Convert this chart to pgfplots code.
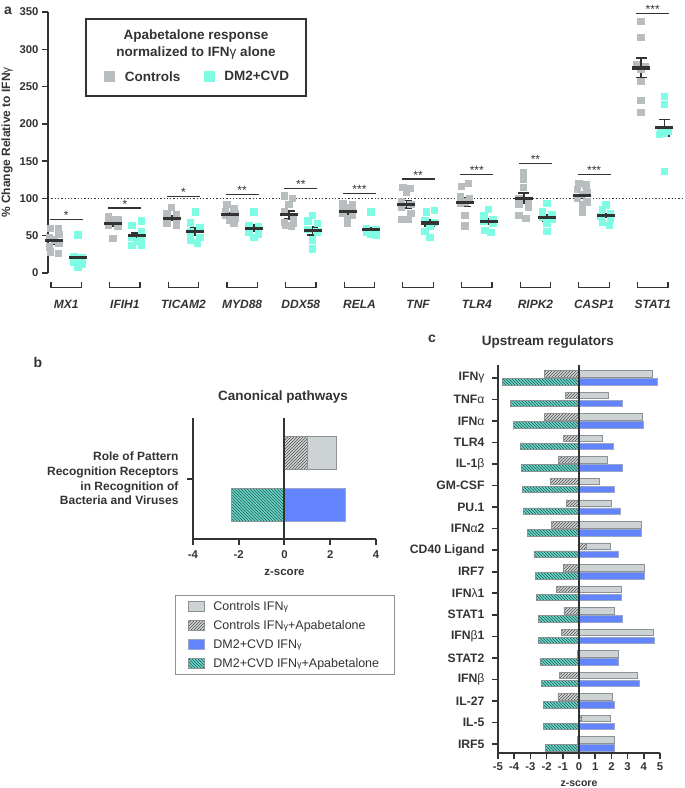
\documentclass[border=0pt]{standalone}
\usepackage{pgfplots}
\usepackage{pgfplotstable}
\pgfplotsset{compat=1.18}
\usepackage{fontspec}
\setmainfont{Liberation Sans}
\usetikzlibrary{patterns}
\definecolor{dark}{HTML}{333333}
\definecolor{ctrlpt}{HTML}{B8BEC0}
\definecolor{dmpt}{HTML}{80FCE4}
\definecolor{bargray}{HTML}{CDD2D4}
\definecolor{barborder}{HTML}{8C9294}
\definecolor{hgray}{HTML}{D2D5D6}
\definecolor{hgrayline}{HTML}{505050}
\definecolor{bblue}{HTML}{6384FF}
\definecolor{bblueborder}{HTML}{9AA6C8}
\definecolor{hcyan}{HTML}{6CD8CA}
\definecolor{hcyanline}{HTML}{1E5A55}
\pgfplotsset{
  bigsq legend/.style={legend image code/.code={\pgfpathrectangle{\pgfpoint{0pt}{-5pt}}{\pgfpoint{18pt}{10pt}}\pgfusepath{use as bounding box}\draw[##1, mark size=5pt] plot coordinates {(5pt,0pt)};}},
  rect legend/.style={legend image code/.code={\pgfpathrectangle{\pgfpoint{0pt}{-5pt}}{\pgfpoint{23pt}{10pt}}\pgfusepath{use as bounding box}\draw[##1] (0pt,-5pt) rectangle (16pt,5pt);}},
}

\pgfplotstableread{
x y
-0.27 60
-0.13 60
-0.12 52
-0.28 47
-0.20 44
-0.12 40
-0.28 35
-0.27 28
-0.13 26
0.72 76
0.88 72
0.80 72
0.72 70
0.88 66
0.72 64
0.88 62
0.80 46
1.80 88
1.72 80
1.88 78
1.72 76
1.88 73
1.72 70
1.88 68
1.72 66
1.88 64
2.74 92
2.86 86
2.72 82
2.88 79
2.72 77
2.88 74
2.78 71
2.86 67
3.72 103
3.86 100
3.80 92
3.72 82
3.88 72
3.72 68
3.88 66
3.74 64
3.84 63
4.72 93
4.88 91
4.80 88
4.72 86
4.88 82
4.72 80
4.88 77
4.80 73
4.80 66
5.74 115
5.86 113
5.80 108
5.72 95
5.88 92
5.72 88
5.88 80
5.72 72
5.84 72
6.86 120
6.74 116
6.72 102
6.88 100
6.80 95
6.72 93
6.80 77
6.80 63
7.80 135
7.80 126
7.80 115
7.72 100
7.88 95
7.72 92
7.88 88
7.72 77
7.84 73
8.74 120
8.86 118
8.72 112
8.88 108
8.80 105
8.72 100
8.88 95
8.80 91
8.80 82
9.80 337
9.80 316
9.72 280
9.88 277
9.80 273
9.80 257
9.80 231
9.80 215
}\ctrltab

\pgfplotstableread{
x y
0.20 51
0.13 22
0.27 20
0.20 18
0.13 15
0.27 12
0.20 8
1.28 70
1.12 64
1.28 55
1.12 48
1.28 46
1.20 42
1.12 37
1.28 37
2.20 82
2.12 67
2.28 61
2.12 55
2.28 48
2.12 44
2.24 40
3.20 82
3.12 64
3.28 62
3.12 60
3.28 58
3.12 54
3.28 52
3.20 48
4.20 77
4.12 70
4.28 66
4.12 58
4.28 55
4.20 44
4.20 32
5.20 82
5.12 60
5.28 58
5.12 55
5.28 54
5.20 52
5.28 50
6.28 84
6.14 82
6.12 70
6.28 68
6.20 62
6.12 56
6.20 48
7.20 85
7.12 77
7.28 72
7.12 70
7.28 66
7.14 57
7.24 54
8.20 93
8.12 82
8.28 78
8.12 75
8.28 72
8.20 70
8.20 66
8.20 56
9.20 91
9.14 85
9.28 80
9.12 76
9.28 72
9.14 68
9.26 64
10.20 237
10.20 226
10.14 192
10.26 190
10.20 188
10.12 186
10.20 136
}\dmtab

\pgfplotstableread{
x y e
-0.2 43.6 4.5
0.2 20.9 4
0.8 66 3
1.2 50 4
1.8 73.5 3
2.2 56 5
2.8 78 3
3.2 60 4
3.8 78 5.5
4.2 56.5 5.5
4.8 82 3
5.2 58 3
5.8 92 5
6.2 67 4
6.8 95 6
7.2 69.5 3.5
7.8 100 7
8.2 74 4.5
8.8 104 4
9.2 77 2.5
9.8 275 13
10.2 195 11
}\meantab

\pgfplotstableread{
y cg ch dg dh
17 4.53 -2.16 4.86 -4.73
16 1.81 -0.84 2.67 -4.24
15 3.93 -2.16 3.99 -4.05
14 1.42 -0.97 2.10 -3.62
13 1.75 -1.28 2.67 -3.56
12 1.28 -1.79 2.18 -3.50
11 1.99 -0.78 2.55 -3.44
10 3.85 -1.71 3.85 -3.19
9 1.95 0.43 2.43 -2.78
8 4.03 -0.97 4.03 -2.70
7 2.61 -1.40 2.61 -2.65
6 2.18 -0.93 2.65 -2.51
5 4.59 -1.09 4.67 -2.49
4 2.43 -0.10 2.43 -2.41
3 3.60 -1.19 3.72 -2.33
2 2.04 -1.30 2.18 -2.22
1 1.95 0.16 2.16 -2.18
0 2.20 -0.10 2.20 -2.06
}\upreg

\begin{document}
\begin{tikzpicture}[x=1pt,y=1pt]
\path[use as bounding box] (0,0) rectangle (685,-788);
% panel letters and titles
\node[font=\bfseries\fontsize{14}{16}\selectfont, text=dark] at (8,-11) {a};
\node[font=\bfseries\fontsize{14}{16}\selectfont, text=dark] at (38,-362) {b};
\node[font=\bfseries\fontsize{14}{16}\selectfont, text=dark] at (432,-339) {c};
\draw[dark, line width=1.3pt] (86,-19) rectangle (306,-96);
\node[align=center, font=\bfseries\fontsize{13.5}{17}\selectfont, text=dark] at (196,-44.5) {Apabetalone response\\normalized to IFN{\mdseries γ} alone};
\node[font=\bfseries\fontsize{13.5}{16}\selectfont, text=dark] at (283,-397) {Canonical pathways};
\node[font=\bfseries\fontsize{13.5}{16}\selectfont, text=dark] at (548,-342) {Upstream regulators};

% ---------------- Panel a ----------------
\begin{axis}[
  at={(48pt,-273pt)}, anchor=south west,
  scale only axis, width=637pt, height=261pt,
  xmin=-0.31, xmax=10.55, ymin=0, ymax=350,
  clip=false,
  axis lines*=left, axis line style={-},
  x axis line style={draw=none},
  y axis line style={line width=1.3pt, dark},
  xtick={0,...,10},
  xticklabels={MX1,IFIH1,TICAM2,MYD88,DDX58,RELA,TNF,TLR4,RIPK2,CASP1,STAT1},
  xtick style={draw=none},
  xticklabel style={font=\bfseries\itshape\fontsize{12}{14}\selectfont, text=dark, yshift=-18pt},
  ytick={0,50,...,350},
  ytick style={line width=1.3pt, dark},
  tick align=outside, major tick length=6pt,
  yticklabel style={font=\bfseries\fontsize{11.3}{13}\selectfont, text=dark},
  /pgf/number format/assume math mode=true,
  ylabel={\% Change Relative to IFN{\mdseries γ}},
  ylabel style={font=\bfseries\fontsize{12}{14}\selectfont, text=dark},
  legend style={at={(0.2355,0.751)}, anchor=center, draw=none, fill=none,
    font=\bfseries\fontsize{13.5}{16}\selectfont, text=dark,
    /tikz/every even column/.append style={column sep=22pt}},
  legend columns=2,
]
\addplot[dark, line width=1pt, dash pattern=on 1.3pt off 2pt, forget plot] coordinates {(-0.31,100) (10.55,100)};
\addplot[color=ctrlpt, only marks, mark=square*, mark size=3.2pt, mark options={draw=ctrlpt, fill=ctrlpt, line width=0pt}, bigsq legend] table {\ctrltab};
\addlegendentry{Controls}
\addplot[color=dmpt, only marks, mark=square*, mark size=3.2pt, mark options={draw=dmpt, fill=dmpt, line width=0pt}, bigsq legend] table {\dmtab};
\addlegendentry{DM2+CVD}
\addplot[only marks, mark=-, mark size=9pt, mark options={line width=3.2pt, dark}, dark, forget plot,
  error bars/.cd, y dir=both, y explicit,
  error bar style={line width=1.6pt, dark},
  error mark options={rotate=90, mark size=5.5pt, line width=1.6pt, dark}]
  table[x=x, y=y, y error=e] {\meantab};
% brackets under categories
\pgfplotsinvokeforeach{0,...,10}{
  \draw[dark, line width=1.2pt] (axis cs:#1-0.26,-12) -- (axis cs:#1-0.26,-19) -- (axis cs:#1+0.26,-19) -- (axis cs:#1+0.26,-12);
}
% significance
\draw[dark, line width=1.3pt] (axis cs:-0.28,72) -- (axis cs:0.28,72);
\node[anchor=base, text=dark, font=\fontsize{12}{14}\selectfont] at (axis cs:0,72) {*};
\draw[dark, line width=1.3pt] (axis cs:0.72,87) -- (axis cs:1.28,87);
\node[anchor=base, text=dark, font=\fontsize{12}{14}\selectfont] at (axis cs:1,87) {*};
\draw[dark, line width=1.3pt] (axis cs:1.72,103) -- (axis cs:2.28,103);
\node[anchor=base, text=dark, font=\fontsize{12}{14}\selectfont] at (axis cs:2,103) {*};
\draw[dark, line width=1.3pt] (axis cs:2.72,105) -- (axis cs:3.28,105);
\node[anchor=base, text=dark, font=\fontsize{12}{14}\selectfont] at (axis cs:3,105) {**};
\draw[dark, line width=1.3pt] (axis cs:3.72,113) -- (axis cs:4.28,113);
\node[anchor=base, text=dark, font=\fontsize{12}{14}\selectfont] at (axis cs:4,113) {**};
\draw[dark, line width=1.3pt] (axis cs:4.72,107) -- (axis cs:5.28,107);
\node[anchor=base, text=dark, font=\fontsize{12}{14}\selectfont] at (axis cs:5,107) {***};
\draw[dark, line width=1.3pt] (axis cs:5.72,126) -- (axis cs:6.28,126);
\node[anchor=base, text=dark, font=\fontsize{12}{14}\selectfont] at (axis cs:6,126) {**};
\draw[dark, line width=1.3pt] (axis cs:6.72,132) -- (axis cs:7.28,132);
\node[anchor=base, text=dark, font=\fontsize{12}{14}\selectfont] at (axis cs:7,132) {***};
\draw[dark, line width=1.3pt] (axis cs:7.72,147) -- (axis cs:8.28,147);
\node[anchor=base, text=dark, font=\fontsize{12}{14}\selectfont] at (axis cs:8,147) {**};
\draw[dark, line width=1.3pt] (axis cs:8.72,132) -- (axis cs:9.28,132);
\node[anchor=base, text=dark, font=\fontsize{12}{14}\selectfont] at (axis cs:9,132) {***};
\draw[dark, line width=1.3pt] (axis cs:9.72,348) -- (axis cs:10.28,348);
\node[anchor=base, text=dark, font=\fontsize{12}{14}\selectfont] at (axis cs:10,348) {***};
\end{axis}

% ---------------- Panel b ----------------
\begin{axis}[
  at={(193pt,-539pt)}, anchor=south west,
  scale only axis, width=183pt, height=121pt,
  xmin=-4, xmax=4, ymin=-60.5, ymax=60.5,
  clip=false,
  axis lines*=left, axis line style={-, line width=2pt, dark},
  xtick={-4,-2,0,2,4}, ytick={0},
  yticklabels={Role of Pattern\\Recognition Receptors\\in Recognition of\\Bacteria and Viruses},
  yticklabel style={align=right, font=\bfseries\fontsize{12}{14.7}\selectfont, text=dark, xshift=-5pt},
  tick align=outside, major tick length=6pt, tick style={line width=2pt, dark},
  xticklabel style={font=\bfseries\fontsize{11.3}{13}\selectfont, text=dark, yshift=-2pt},
  /pgf/number format/assume math mode=true,
  xlabel={z-score}, xlabel style={font=\bfseries\fontsize{11.5}{13}\selectfont, text=dark, yshift=-4pt},
  rect legend,
  legend style={at={(-0.098,-0.463)}, anchor=north west, draw=barborder, line width=0.8pt,
    font=\fontsize{12.5}{15}\selectfont, text=dark, cells={anchor=west},
    inner xsep=13pt, inner ysep=4pt, row sep=4.5pt},
]
\addplot[xbar, bar width=33pt, bar shift=0pt, fill=bargray, draw=barborder, line width=0.8pt] coordinates {(2.27,26)};
\addlegendentry{Controls IFN{\small γ}}
\addplot[xbar, bar width=33pt, bar shift=0pt, fill=hgray, draw=barborder, line width=0.8pt,
  postaction={pattern=north east lines, pattern color=hgrayline}] coordinates {(0.99,26)};
\addlegendentry{Controls IFN{\small γ}+Apabetalone}
\addplot[xbar, bar width=33pt, bar shift=0pt, fill=bblue, draw=bblueborder, line width=0.8pt] coordinates {(2.66,-26)};
\addlegendentry{DM2+CVD IFN{\small γ}}
\addplot[xbar, bar width=33pt, bar shift=0pt, fill=hcyan, draw=barborder, line width=0.8pt,
  postaction={pattern=north west lines, pattern color=hcyanline}] coordinates {(-2.31,-26)};
\addlegendentry{DM2+CVD IFN{\small γ}+Apabetalone}
\addplot[dark, line width=2pt, forget plot] coordinates {(0,-60.5) (0,60.5)};
\end{axis}

% ---------------- Panel c ----------------
\begin{axis}[
  at={(498pt,-753pt)}, anchor=south west,
  scale only axis, width=162pt, height=388pt,
  xmin=-5, xmax=5, ymin=-0.42, ymax=17.6,
  clip=false,
  axis lines*=left, axis line style={-, line width=1.8pt, dark},
  xtick={-5,...,5}, ytick={0,...,17},
  yticklabels={IRF5,IL-5,IL-27,IFN{\mdseries β},STAT2,IFN{\mdseries β}1,STAT1,IFN{\mdseries λ}1,IRF7,CD40 Ligand,IFN{\mdseries α}2,PU.1,GM-CSF,IL-1{\mdseries β},TLR4,IFN{\mdseries α},TNF{\mdseries α},IFN{\mdseries γ}},
  yticklabel style={font=\bfseries\fontsize{12.2}{14}\selectfont, text=dark, xshift=-4pt},
  tick align=outside, major tick length=6pt, tick style={line width=1.6pt, dark},
  xticklabel style={font=\bfseries\fontsize{11.3}{13}\selectfont, text=dark},
  /pgf/number format/assume math mode=true,
  xlabel={z-score}, xlabel style={font=\bfseries\fontsize{10.5}{12}\selectfont, text=dark, yshift=-3pt},
]
\addplot[xbar, bar width=6.5pt, bar shift=0pt, fill=bargray, draw=barborder, line width=0.7pt]
  table[x=cg, y expr=\thisrow{y}+0.186] {\upreg};
\addplot[xbar, bar width=6.5pt, bar shift=0pt, fill=hgray, draw=barborder, line width=0.7pt,
  postaction={pattern=north east lines, pattern color=hgrayline}]
  table[x=ch, y expr=\thisrow{y}+0.186] {\upreg};
\addplot[xbar, bar width=6.5pt, bar shift=0pt, fill=bblue, draw=bblueborder, line width=0.7pt]
  table[x=dg, y expr=\thisrow{y}-0.186] {\upreg};
\addplot[xbar, bar width=6.5pt, bar shift=0pt, fill=hcyan, draw=barborder, line width=0.7pt,
  postaction={pattern=north west lines, pattern color=hcyanline}]
  table[x=dh, y expr=\thisrow{y}-0.186] {\upreg};
\addplot[dark, line width=1.8pt] coordinates {(0,-0.42) (0,17.6)};
\end{axis}
\end{tikzpicture}
\end{document}
